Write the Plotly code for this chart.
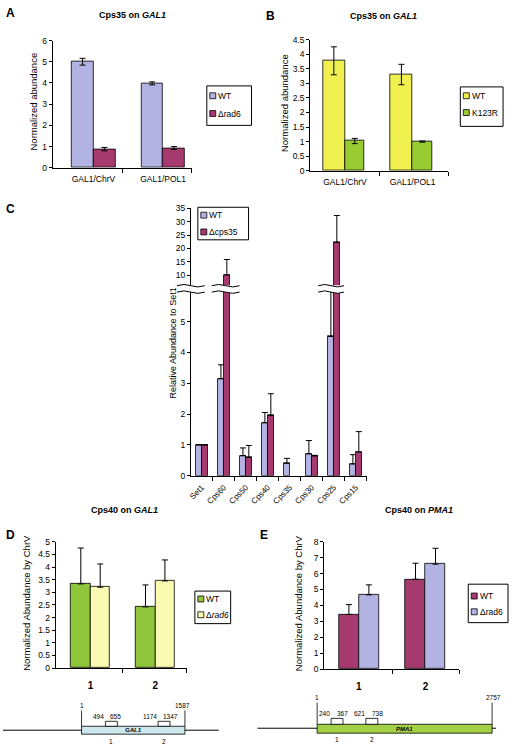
import plotly.graph_objects as go

W, H = 512, 750
FONT = "Liberation Sans, Arial, sans-serif"

# ---------------- data ----------------
# Panel A: Cps35 on GAL1
a_categories = ["GAL1/ChrV", "GAL1/POL1"]
a_wt = [5.0, 3.98]
a_wt_err = [0.16, 0.07]
a_rad6 = [0.88, 0.93]
a_rad6_err = [0.08, 0.07]

# Panel B: Cps35 on GAL1
b_categories = ["GAL1/ChrV", "GAL1/POL1"]
b_wt = [3.77, 3.3]
b_wt_err = [0.48, 0.35]
b_k123r = [1.02, 1.0]
b_k123r_err = [0.09, 0.02]

# Panel C: relative abundance to Set1
c_categories = ["Set1", "Cps60", "Cps50", "Cps40", "Cps35", "Cps30", "Cps25", "Cps15"]
c_wt = [1.0, 3.15, 0.65, 1.72, 0.4, 0.71, 4.52, 0.38]
c_wt_err = [0, 0.45, 0.25, 0.33, 0.16, 0.43, 1.5, 0.3]
c_cps35 = [1.0, 10.2, 0.59, 1.95, None, 0.64, 22.2, 0.77]
c_cps35_err = [0, 5.7, 0.39, 0.71, None, 0.02, 10.1, 0.66]

# Panel D: Cps40 on GAL1
d_categories = ["1", "2"]
d_wt = [3.33, 2.42]
d_wt_err = [1.42, 0.87]
d_rad6 = [3.2, 3.45]
d_rad6_err = [0.92, 0.83]

# Panel E: Cps40 on PMA1
e_categories = ["1", "2"]
e_wt = [3.43, 5.64]
e_wt_err = [0.62, 1.01]
e_rad6 = [4.66, 6.59]
e_rad6_err = [0.63, 1.0]

# gene diagram labels
gal1_ends = ["1", "1587"]
gal1_amplicons = [("494", "655"), ("1174", "1347")]
pma1_ends = ["1", "2757"]
pma1_amplicons = [("240", "367"), ("621", "738")]

# ---------------- colours ----------------
LAV = "#b3b3e3"
MAR = "#a63a6f"
YEL = "#f0f050"
GRN = "#99cc33"
GRN_D = "#8fc63c"
LYEL = "#fafab2"
GENE_BLUE = "#cde8ec"
GENE_GRN = "#a3d146"


def X(px):
    return px / W


def Y(py):
    return 1 - py / H


fig = go.Figure()


def add_bars(vals, errs, color, name, xa, ya, offset, width, symmetric):
    xs = list(range(len(vals)))
    if symmetric:
        ey = dict(type="data", array=errs, visible=True, color="black", thickness=1, width=3)
    else:
        ey = dict(type="data", array=errs, arrayminus=[0] * len(errs), symmetric=False,
                  visible=True, color="black", thickness=1, width=3)
    fig.add_trace(go.Bar(
        x=xs, y=vals, name=name, xaxis=xa, yaxis=ya,
        offset=offset, width=width,
        marker=dict(color=color, line=dict(color="black", width=0.8)),
        error_y=ey, showlegend=False,
    ))


# Panel A (70 px per category, centres at 91 / 161 px)
add_bars(a_wt, a_wt_err, LAV, "WT", "x", "y", -0.314, 0.314, True)
add_bars(a_rad6, a_rad6_err, MAR, "Δrad6", "x", "y", 0.0, 0.314, True)
# Panel B
add_bars(b_wt, b_wt_err, YEL, "WT", "x2", "y2", -0.33, 0.33, True)
add_bars(b_k123r, b_k123r_err, GRN, "K123R", "x2", "y2", 0.0, 0.29, True)
# Panel C lower and upper segments
for ya in ("y3", "y6"):
    add_bars(c_wt, c_wt_err, LAV, "WT", "x3", ya, -0.27, 0.27, False)
    add_bars(c_cps35, c_cps35_err, MAR, "Δcps35", "x3", ya, 0.0, 0.27, False)
# Panel D
add_bars(d_wt, d_wt_err, GRN_D, "WT", "x4", "y4", -0.3, 0.3, False)
add_bars(d_rad6, d_rad6_err, LYEL, "Δrad6", "x4", "y4", 0.0, 0.3, False)
# Panel E
add_bars(e_wt, e_wt_err, MAR, "WT", "x5", "y5", -0.3, 0.3, False)
add_bars(e_rad6, e_rad6_err, LAV, "Δrad6", "x5", "y5", 0.0, 0.3, False)

TICKFONT = dict(family=FONT, size=8.5, color="black")


def yax(top, bot, rng, dtick, anchor, tick0=0):
    return dict(domain=[Y(bot), Y(top)], range=rng, dtick=dtick, tick0=tick0,
                showline=True, linecolor="black", linewidth=1, ticks="outside",
                ticklen=3, tickcolor="black", tickwidth=1, showgrid=False,
                zeroline=False, tickfont=TICKFONT, anchor=anchor, fixedrange=True)


def xax(left, right, rng, labels, bounds, anchor, angle=0, size=8, standoff=4):
    return dict(domain=[X(left), X(right)], range=rng,
                tickvals=list(range(len(labels))), ticktext=labels, ticks="",
                tickangle=angle, showline=True, linecolor="black", linewidth=1,
                showgrid=False, zeroline=False, anchor=anchor, fixedrange=True,
                tickfont=dict(family=FONT, size=size, color="black"),
                ticklabelstandoff=standoff,
                minor=dict(tickvals=bounds, ticks="outside", ticklen=4,
                           tickcolor="black", tickwidth=1, showgrid=False))


layout = dict(
    width=W, height=H, margin=dict(l=0, r=0, t=0, b=0),
    paper_bgcolor="white", plot_bgcolor="white", showlegend=False,
    font=dict(family=FONT, color="black"), bargap=0,
)
# A
layout["xaxis"] = xax(50, 190, [-0.586, 1.414], a_categories, [0.414, 1.414], "y", size=8.5, standoff=3)
layout["yaxis"] = yax(36, 165, [0, 6], 1, "x")
# B
layout["xaxis2"] = xax(309, 448, [-0.515, 1.53], b_categories, [0.515, 1.53], "y2", size=8.5, standoff=3)
layout["yaxis2"] = yax(35, 168, [0, 4.5], 0.5, "x2")
# C
layout["xaxis3"] = xax(189, 366, [-0.5, 7.5], c_categories,
                       [0.5, 1.5, 2.5, 3.5, 4.5, 5.5, 6.5, 7.5], "y3", angle=-45, size=8, standoff=3)
layout["yaxis3"] = yax(291, 477, [0, 5.96], 1, "x3")
layout["yaxis6"] = yax(206, 284, [6.32, 35], 5, "x3", tick0=0)
# D
layout["xaxis4"] = xax(53, 185, [-0.538, 1.49], ["<b>%s</b>" % c for c in d_categories],
                       [0.49, 1.49], "y4", size=10, standoff=8)
layout["yaxis4"] = yax(544, 672, [0, 5], 0.5, "x4")
# E
layout["xaxis5"] = xax(323, 459, [-0.522, 1.507], ["<b>%s</b>" % c for c in e_categories],
                       [0.507, 1.507], "y5", size=10, standoff=8)
layout["yaxis5"] = yax(544, 673, [0, 8], 1, "x5")

fig.update_layout(**layout)

annotations = []
shapes = []


def text(x, y, s, size=8, xanchor="center", yanchor="middle", angle=0):
    annotations.append(dict(x=X(x), y=Y(y), xref="paper", yref="paper", text=s,
                            showarrow=False, xanchor=xanchor, yanchor=yanchor,
                            textangle=angle, font=dict(family=FONT, size=size, color="black")))


def rect(x0, y0, x1, y1, fill="white", lw=1):
    shapes.append(dict(type="rect", xref="paper", yref="paper", x0=X(x0), x1=X(x1),
                       y0=Y(y1), y1=Y(y0), fillcolor=fill,
                       line=dict(color="black", width=lw), layer="above"))


def line(x0, y0, x1, y1, lw=1, color="black"):
    shapes.append(dict(type="line", xref="paper", yref="paper", x0=X(x0), x1=X(x1),
                       y0=Y(y0), y1=Y(y1), line=dict(color=color, width=lw), layer="above"))


# panel letters
for s, x, y in [("A", 1, 8), ("B", 263, 11), ("C", 1, 207), ("D", 1, 537), ("E", 257, 537)]:
    text(x, y, "<b>%s</b>" % s, size=12, xanchor="left")

# panel titles
text(130, 10, "<b>Cps35 on <i>GAL1</i></b>", size=9)
text(383, 11, "<b>Cps35 on <i>GAL1</i></b>", size=9)
text(122, 512, "<b>Cps40 on <i>GAL1</i></b>", size=9)
text(418, 512, "<b>Cps40 on <i>PMA1</i></b>", size=9)

# y-axis titles
text(31, 98, "Normalized abundance", size=9.5, angle=-90)
text(283, 99, "Normalized abundance", size=9.5, angle=-90)
text(171, 342, "Relative Abundance to Set1", size=9, angle=-90)
text(24, 606, "Normalized Abundance by ChrV", size=9.5, angle=-90)
text(298, 606, "Normalized Abundance by ChrV", size=9.5, angle=-90)


# manual legends
def legend(x0, y0, x1, y1, entries):
    rect(x0, y0, x1, y1)
    for (label, color, cy) in entries:
        rect(x0 + 3, cy - 3, x0 + 9, cy + 3, fill=color, lw=0.8)
        text(x0 + 9.5, cy, label, size=8.5, xanchor="left")


legend(205, 82, 250, 122, [("WT", LAV, 92), ("Δrad6", MAR, 110)])
legend(460, 83, 503, 123, [("WT", YEL, 92), ("K123R", GRN, 109)])
legend(196, 205, 247, 238, [("WT", LAV, 213), ("Δcps35", MAR, 230)])
legend(193, 594, 229, 627, [("WT", GRN_D, 602), ("Δ<i>rad6</i>", LYEL, 618)])
legend(468, 587, 508, 626, [("WT", MAR, 599), ("Δrad6", LAV, 615)])


# axis break marks for panel C
def wave_pair(x0, x1, ya, yb, a=2.5):
    w = x1 - x0

    def P(x, y):
        return "%.5f,%.5f" % (X(x), Y(y))

    fill = ("M " + P(x0, ya) + " Q " + P(x0 + w / 4, ya - a) + " " + P(x0 + w / 2, ya)
            + " T " + P(x1, ya) + " L " + P(x1, yb) + " Q " + P(x1 - w / 4, yb + a)
            + " " + P(x1 - w / 2, yb) + " T " + P(x0, yb) + " Z")
    shapes.append(dict(type="path", xref="paper", yref="paper", path=fill,
                       fillcolor="white", line=dict(width=0), layer="above"))
    for yy in (ya, yb):
        p = ("M " + P(x0, yy) + " Q " + P(x0 + w / 4, yy - a) + " " + P(x0 + w / 2, yy)
             + " T " + P(x1, yy))
        shapes.append(dict(type="path", xref="paper", yref="paper", path=p,
                           line=dict(color="black", width=1), layer="above"))


wave_pair(175, 203, 284.5, 291)
wave_pair(210, 238, 284.5, 291)
wave_pair(317, 343, 284.5, 291)

# gene diagram for GAL1 (panel D)
line(0, 735, 217, 735)
rect(79, 731, 183, 739, fill=GENE_BLUE, lw=0.8)
text(131, 735.3, "<b><i>GAL1</i></b>", size=6)
line(79, 715, 79, 731, lw=0.8)
line(183, 715, 183, 731, lw=0.8)
text(79, 710, gal1_ends[0], size=6.5)
text(181, 710, gal1_ends[1], size=6.5)
for (x0, x1), (l0, l1), lab in zip([(103, 115), (156, 168)], gal1_amplicons, ["1", "2"]):
    rect(x0, 726, x1, 731, lw=0.8)
    text(x0 + 1, 721.5, l0, size=6.5, xanchor="right")
    text(x0 + 3, 721.5, l1, size=6.5, xanchor="left")
    text((x0 + x1) / 2, 746, lab, size=6.5)

# gene diagram for PMA1 (panel E)
line(256, 733, 496, 733)
rect(316, 729, 492, 738, fill=GENE_GRN, lw=0.8)
text(404, 733.5, "<b><i>PMA1</i></b>", size=6)
line(316, 707, 316, 729, lw=0.8)
line(492, 707, 492, 729, lw=0.8)
text(316, 702, pma1_ends[0], size=6.5)
text(493, 702, pma1_ends[1], size=6.5)
for (x0, x1), (l0, l1), lab in zip([(330, 342), (365, 377)], pma1_amplicons, ["1", "2"]):
    rect(x0, 723, x1, 729, lw=0.8)
    text(x0 + 1, 718.5, l0, size=6.5, xanchor="right")
    text(x0 + 4, 718.5, l1, size=6.5, xanchor="left")
    text((x0 + x1) / 2, 744, lab, size=6.5)

fig.update_layout(annotations=annotations, shapes=shapes)
fig.write_html(
    "out.html",
    config={"displayModeBar": False},
    post_script="document.body.style.margin='0';document.body.style.padding='0';"
                "document.body.style.overflow='hidden';",
)
